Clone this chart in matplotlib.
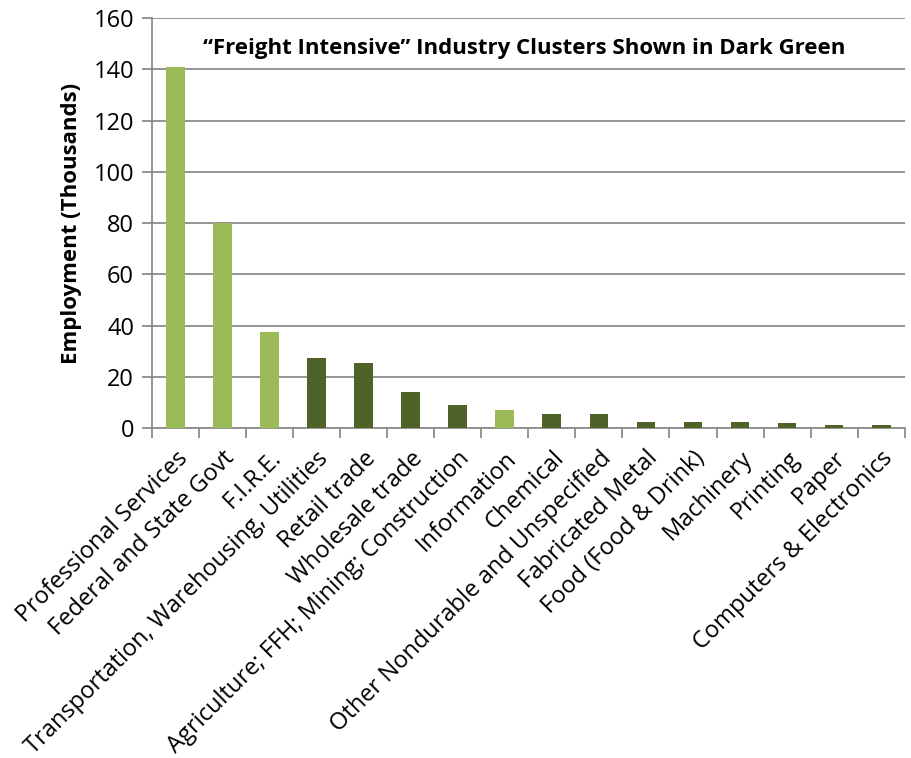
import matplotlib
matplotlib.use("Agg")
import matplotlib.pyplot as plt
import numpy as np

categories = [
    "Professional Services", "Federal and State Govt", "F.I.R.E.",
    "Transportation, Warehousing, Utilities", "Retail trade", "Wholesale trade",
    "Agriculture; FFH; Mining; Construction", "Information", "Chemical",
    "Other Nondurable and Unspecified", "Fabricated Metal", "Food (Food & Drink)",
    "Machinery", "Printing", "Paper", "Computers & Electronics",
]
employment = [141, 80, 37.5, 27.5, 25.5, 14, 9, 7.3, 5.5, 5.5, 2.6, 2.5, 2.4, 1.9, 1.4, 1.3]
freight_intensive = [False, False, False, True, True, True, True, False,
                     True, True, True, True, True, True, True, True]

light_green = "#9BBB59"
dark_green = "#4F6228"

plt.rcParams["font.family"] = ["Open Sans", "DejaVu Sans"]

fig = plt.figure(figsize=(9.11, 7.58), dpi=100)
ax = fig.add_axes([0.167, 0.435, 0.826, 0.541])

x = np.arange(len(categories))
colors = [dark_green if f else light_green for f in freight_intensive]
ax.bar(x, employment, width=0.4, color=colors, zorder=3)

ax.set_xlim(-0.5, len(categories) - 0.5)
ax.set_ylim(0, 160)
ax.set_yticks(np.arange(0, 161, 20))
ax.yaxis.grid(True, color="#8c8c8c", linewidth=1.3, zorder=0)
ax.set_axisbelow(True)

ax.set_xticks(x)
ax.set_xticklabels(categories, rotation=45, ha="right", rotation_mode="anchor", fontsize=17)
ax.tick_params(axis="x", length=0, pad=13)
ax.set_xticks(np.arange(-0.5, len(categories)), minor=True)
ax.tick_params(axis="x", which="minor", length=7, width=1.3, color="#8c8c8c")
ax.tick_params(axis="y", labelsize=17, length=7, width=1.3, color="#8c8c8c", pad=6)

for side in ["top", "right"]:
    ax.spines[side].set_visible(False)
for side in ["left", "bottom"]:
    ax.spines[side].set_color("#8c8c8c")
    ax.spines[side].set_linewidth(1.3)

ax.set_ylabel("Employment (Thousands)", fontsize=16, fontweight="bold", labelpad=8)
ax.text(0.494, 0.927, "\u201cFreight Intensive\u201d Industry Clusters Shown in Dark Green",
        transform=ax.transAxes, ha="center", va="center", fontsize=16, fontweight="bold")

fig.savefig("out.png", dpi=100)
